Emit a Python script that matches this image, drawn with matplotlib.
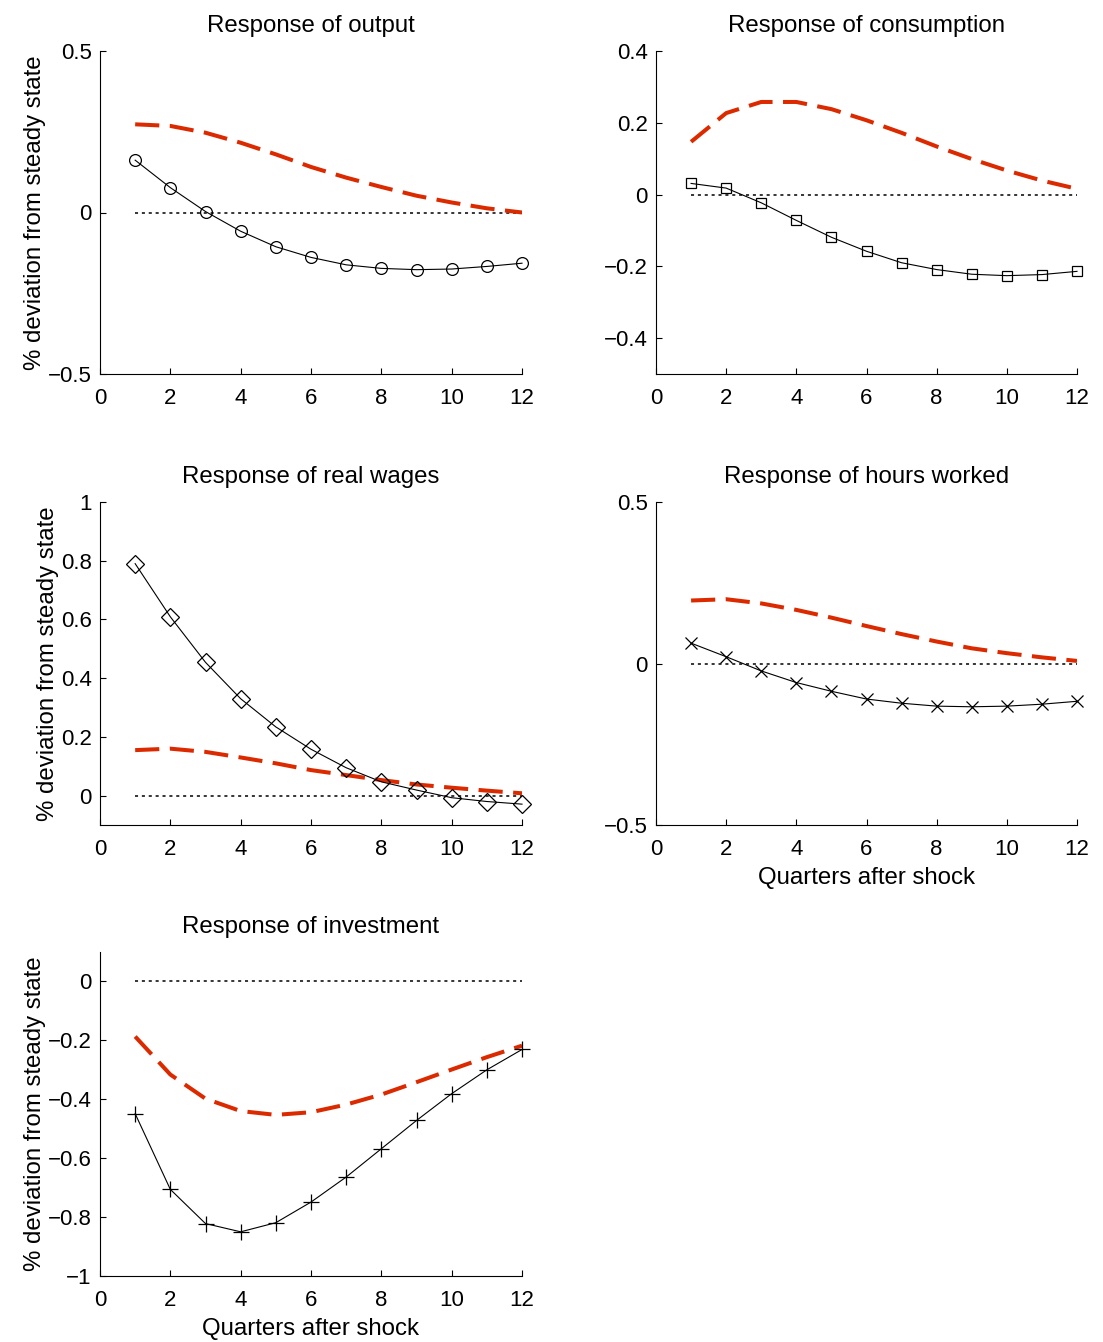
import matplotlib
matplotlib.use("Agg")
import matplotlib.pyplot as plt
import numpy as np

plt.rcParams['font.family'] = ['Liberation Sans', 'DejaVu Sans']

quarters = list(range(1, 13))

output_model = [0.162, 0.077, 0.003, -0.058, -0.106, -0.139, -0.162, -0.173, -0.177, -0.175, -0.167, -0.157]
output_alt = [0.273, 0.268, 0.247, 0.216, 0.180, 0.141, 0.108, 0.079, 0.052, 0.031, 0.013, 0.000]

cons_model = [0.031, 0.018, -0.023, -0.072, -0.119, -0.158, -0.190, -0.209, -0.222, -0.226, -0.223, -0.214]
cons_alt = [0.147, 0.227, 0.258, 0.258, 0.238, 0.207, 0.172, 0.134, 0.099, 0.067, 0.039, 0.016]

wage_model = [0.790, 0.609, 0.454, 0.330, 0.234, 0.158, 0.095, 0.047, 0.019, -0.007, -0.020, -0.029]
wage_alt = [0.155, 0.160, 0.149, 0.130, 0.110, 0.087, 0.070, 0.053, 0.038, 0.027, 0.017, 0.008]

hours_model = [0.063, 0.021, -0.023, -0.059, -0.086, -0.110, -0.123, -0.132, -0.134, -0.132, -0.126, -0.117]
hours_alt = [0.195, 0.199, 0.186, 0.166, 0.142, 0.116, 0.091, 0.068, 0.047, 0.032, 0.019, 0.008]

inv_model = [-0.449, -0.706, -0.822, -0.850, -0.819, -0.749, -0.664, -0.568, -0.472, -0.381, -0.300, -0.231]
inv_alt = [-0.187, -0.316, -0.398, -0.440, -0.453, -0.444, -0.418, -0.384, -0.342, -0.299, -0.257, -0.218]

titles = ["Response of output", "Response of consumption", "Response of real wages",
          "Response of hours worked", "Response of investment"]
ylims = [(-0.5, 0.5), (-0.5, 0.4), (-0.1, 1.0), (-0.5, 0.5), (-1.0, 0.1)]
yticks = [[-0.5, 0, 0.5], [-0.4, -0.2, 0, 0.2, 0.4], [0, 0.2, 0.4, 0.6, 0.8, 1],
          [-0.5, 0, 0.5], [-1, -0.8, -0.6, -0.4, -0.2, 0]]
markers = ['o', 's', 'D', 'x', '+']
msizes = [8.5, 7, 9, 8.5, 11]
models = [output_model, cons_model, wage_model, hours_model, inv_model]
alts = [output_alt, cons_alt, wage_alt, hours_alt, inv_alt]

W, H = 1103, 1342
fig = plt.figure(figsize=(W / 100, H / 100), dpi=100)
boxes = [(100, 51, 522, 374), (656, 51, 1077, 374),
         (100, 502, 522, 825), (656, 502, 1077, 825),
         (100, 952, 522, 1276)]
red = '#dc2a00'

def fmt(v):
    if abs(v) < 1e-9:
        return '0'
    s = ('%g' % v)
    return s.replace('-', '\u2212')

for i in range(5):
    l, t, r, b = boxes[i]
    ax = fig.add_axes([l / W, 1 - b / H, (r - l) / W, (b - t) / H])
    ax.plot(quarters, [0] * len(quarters), color='black', linestyle=(0, (2, 2.5)), linewidth=1.1)
    ax.plot(quarters, alts[i], color=red, linewidth=2.9, linestyle=(0, (6, 2.6)))
    ax.plot(quarters, models[i], color='black', linewidth=0.8, marker=markers[i],
            markersize=msizes[i], markerfacecolor='none', markeredgecolor='black',
            markeredgewidth=0.9, clip_on=False)
    ax.set_xlim(0, 12)
    ax.set_ylim(*ylims[i])
    ax.set_xticks([0, 2, 4, 6, 8, 10, 12])
    ax.set_yticks(yticks[i])
    ax.set_yticklabels([fmt(v) for v in yticks[i]])
    ax.spines['top'].set_visible(False)
    ax.spines['right'].set_visible(False)
    ax.spines['left'].set_linewidth(0.8)
    ax.spines['bottom'].set_linewidth(0.8)
    ax.tick_params(direction='in', length=4, width=0.8, labelsize=16)
    ax.tick_params(axis='x', pad=10)
    ax.tick_params(axis='y', pad=6)
    ax.set_title(titles[i], fontsize=17.3, pad=14)
    if i in (0, 2, 4):
        ax.set_ylabel('% deviation from steady state', fontsize=17.3, labelpad=1)
    if i in (3, 4):
        ax.set_xlabel('Quarters after shock', fontsize=17.3, labelpad=5)

fig.savefig('out.png', dpi=100)
